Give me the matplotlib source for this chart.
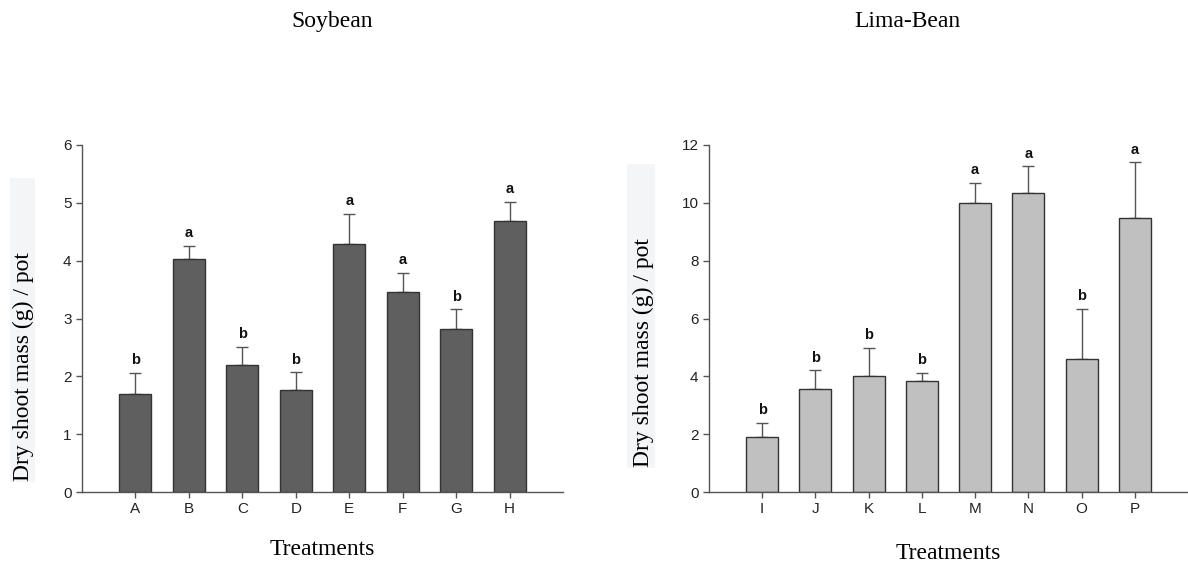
import matplotlib
matplotlib.use("Agg")
from matplotlib import pyplot as plt
from matplotlib.patches import Rectangle


# Данные соя
soy_labels = ["A", "B", "C", "D", "E", "F", "G", "H"]
soy_values = [1.69, 4.03, 2.20, 1.77, 4.29, 3.46, 2.81, 4.68]
soy_err = [0.37, 0.23, 0.31, 0.30, 0.52, 0.33, 0.35, 0.34]
soy_letters = ["b", "a", "b", "b", "a", "a", "b", "a"]

# Данные лимская фасоль
lima_labels = ["I", "J", "K", "L", "M", "N", "O", "P"]
lima_values = [1.91, 3.56, 4.00, 3.85, 10.00, 10.33, 4.60, 9.47]
lima_err = [0.48, 0.65, 0.98, 0.28, 0.70, 0.93, 1.73, 1.94]
lima_letters = ["b", "b", "b", "b", "a", "a", "b", "a"]

serif = "Liberation Serif"
sans = "Liberation Sans"


def draw(fig, rect, labels, values, err, letters, color, ymax, ystep, title, title_x,
         label_x, box, xpad):
    ax = fig.add_axes(rect)
    x = range(len(labels))
    ax.bar(x, values, width=0.6, color=color, edgecolor="#333333", linewidth=1, zorder=2)
    ax.errorbar(x, values, yerr=[[0] * len(err), err], fmt="none",
                ecolor="#555555", elinewidth=1, capsize=4, capthick=1, zorder=1)

    # Буквы над столбцами
    for i in x:
        ax.annotate(letters[i], (i, values[i] + err[i]), xytext=(0, 4),
                    textcoords="offset points", ha="center", va="bottom",
                    fontsize=10.5, fontweight="bold", family=sans, color="#111111")

    ax.set_xlim(-1, 8)
    ax.set_ylim(0, ymax)
    ax.set_xticks(list(x))
    ax.set_xticklabels(labels)
    ax.set_yticks(range(0, ymax + 1, ystep))
    for s in ["top", "right"]:
        ax.spines[s].set_visible(False)
    for s in ["left", "bottom"]:
        ax.spines[s].set_color("#555555")
        ax.spines[s].set_linewidth(1)
    ax.tick_params(direction="out", length=4, width=1, color="#555555",
                   labelsize=11, labelcolor="#222222")
    for t in ax.get_xticklabels() + ax.get_yticklabels():
        t.set_family(sans)
    ax.set_xlabel("Treatments", family=serif, fontsize=17, labelpad=xpad)

    # Подпись оси Y с серым фоном
    fig.patches.append(Rectangle((box[0], box[1]), box[2], box[3],
                                 transform=fig.transFigure, facecolor="#f4f5f7",
                                 edgecolor="none", zorder=0))
    fig.text(label_x, box[1] + 0.002, "Dry shoot mass (g) / pot",
             rotation=90, ha="center", va="bottom", family=serif, fontsize=17)

    fig.text(title_x, 0.962, title, ha="center", va="center", family=serif, fontsize=17)
    return ax


def main():
    fig = plt.figure(figsize=(11.88, 5.63), dpi=100)
    W, H = 1188, 563

    draw(fig, [82 / W, 71 / H, 481 / W, 347 / H], soy_labels, soy_values, soy_err,
         soy_letters, "#5f5f5f", 6, 1, "Soybean", 332 / W, 23 / W,
         (10 / W, 81 / H, 25 / W, 304 / H), 16)
    draw(fig, [709 / W, 71 / H, 479 / W, 347 / H], lima_labels, lima_values, lima_err,
         lima_letters, "#c0c0c0", 12, 2, "Lima-Bean", 907 / W, 643 / W,
         (627 / W, 95 / H, 28 / W, 304 / H), 19)

    fig.savefig("out.png", dpi=100)


if __name__ == '__main__':
    main()
